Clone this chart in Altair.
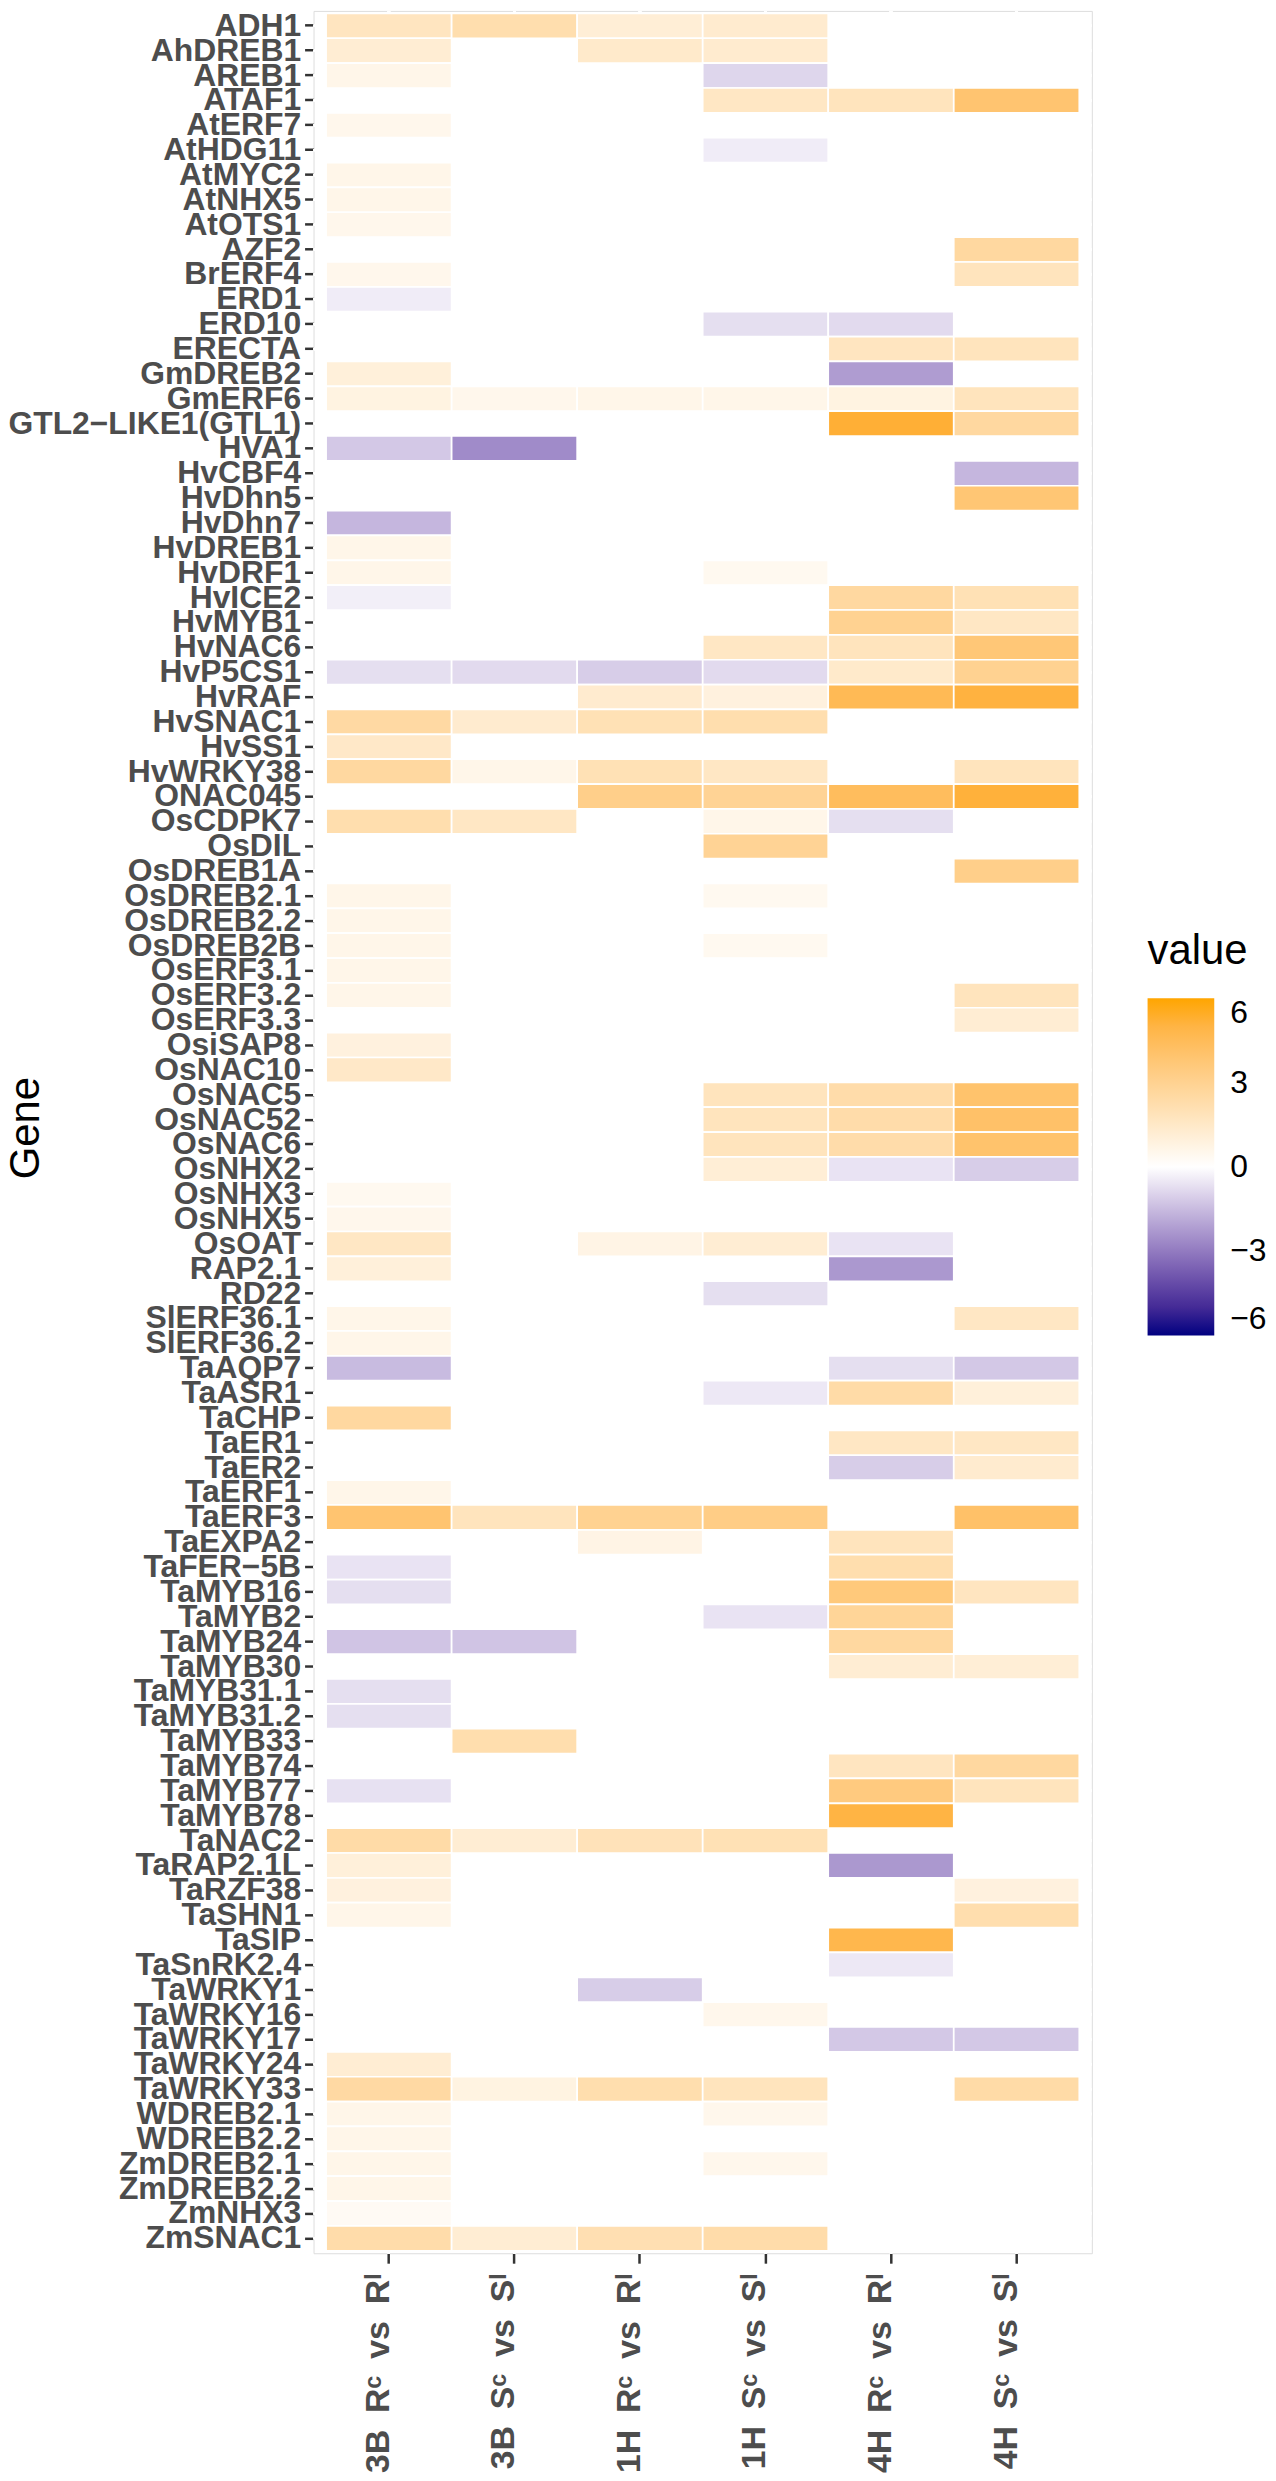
import altair as alt
import pandas as pd

N = None
SP = "\u2002"

genes = [
    "ADH1", "AhDREB1", "AREB1", "ATAF1", "AtERF7", "AtHDG11", "AtMYC2", "AtNHX5", "AtOTS1", "AZF2",
    "BrERF4", "ERD1", "ERD10", "ERECTA", "GmDREB2", "GmERF6", "GTL2\u2212LIKE1(GTL1)", "HVA1", "HvCBF4", "HvDhn5",
    "HvDhn7", "HvDREB1", "HvDRF1", "HvICE2", "HvMYB1", "HvNAC6", "HvP5CS1", "HvRAF", "HvSNAC1", "HvSS1",
    "HvWRKY38", "ONAC045", "OsCDPK7", "OsDIL", "OsDREB1A", "OsDREB2.1", "OsDREB2.2", "OsDREB2B", "OsERF3.1", "OsERF3.2",
    "OsERF3.3", "OsiSAP8", "OsNAC10", "OsNAC5", "OsNAC52", "OsNAC6", "OsNHX2", "OsNHX3", "OsNHX5", "OsOAT",
    "RAP2.1", "RD22", "SlERF36.1", "SlERF36.2", "TaAQP7", "TaASR1", "TaCHP", "TaER1", "TaER2", "TaERF1",
    "TaERF3", "TaEXPA2", "TaFER\u22125B", "TaMYB16", "TaMYB2", "TaMYB24", "TaMYB30", "TaMYB31.1", "TaMYB31.2", "TaMYB33",
    "TaMYB74", "TaMYB77", "TaMYB78", "TaNAC2", "TaRAP2.1L", "TaRZF38", "TaSHN1", "TaSIP", "TaSnRK2.4", "TaWRKY1\u00a0",
    "TaWRKY16", "TaWRKY17", "TaWRKY24", "TaWRKY33", "WDREB2.1", "WDREB2.2", "ZmDREB2.1", "ZmDREB2.2", "ZmNHX3", "ZmSNAC1",
]

comparisons = [
    f"3B{SP}R\u1d9c{SP}vs{SP}R\u1d35",
    f"3B{SP}S\u1d9c{SP}vs{SP}S\u1d35",
    f"1H{SP}R\u1d9c{SP}vs{SP}R\u1d35",
    f"1H{SP}S\u1d9c{SP}vs{SP}S\u1d35",
    f"4H{SP}R\u1d9c{SP}vs{SP}R\u1d35",
    f"4H{SP}S\u1d9c{SP}vs{SP}S\u1d35",
]

# log2 fold change per comparison, in gene order (None = not reported)
v_3B_R = [1.7, 1.2, 0.6, N, 0.5, N, 0.6, 0.6, 0.5, N,
          0.5, -0.4, N, N, 1.0, 0.8, N, -1.2, N, N,
          -1.6, 0.6, 0.6, -0.35, N, N, -0.7, N, 2.5, 1.5,
          2.6, N, 2.2, N, N, 0.6, 0.6, 0.6, 0.6, 0.6,
          N, 0.9, 1.5, N, N, N, N, 0.4, 0.5, 1.6,
          1.0, N, 0.6, 0.6, -1.5, N, 2.6, N, N, 0.6,
          3.9, N, -0.6, -0.7, N, -1.3, N, -0.7, -0.7, N,
          N, -0.65, N, 2.4, 1.0, 0.9, 0.6, N, N, N,
          N, N, 1.2, 2.5, 0.6, 0.6, 0.6, 0.6, 0.3, 2.3]
v_3B_S = [2.2, N, N, N, N, N, N, N, N, N,
          N, N, N, N, N, 0.5, N, -2.6, N, N,
          N, N, N, N, N, N, -0.8, N, 1.3, N,
          0.6, N, 1.6, N, N, N, N, N, N, N,
          N, N, N, N, N, N, N, N, N, N,
          N, N, N, N, N, N, N, N, N, N,
          1.8, N, N, N, N, -1.3, N, N, N, 2.2,
          N, N, N, 1.2, N, N, N, N, N, N,
          N, N, N, 0.8, N, N, N, N, N, 1.2]
v_1H_R = [1.1, 1.4, N, N, N, N, N, N, N, N,
          N, N, N, N, N, 0.6, N, N, N, N,
          N, N, N, N, N, N, -1.1, 1.3, 2.0, N,
          2.0, 3.2, N, N, N, N, N, N, N, N,
          N, N, N, N, N, N, N, N, N, 0.7,
          N, N, N, N, N, N, N, N, N, N,
          3.0, 0.7, N, N, N, N, N, N, N, N,
          N, N, N, 1.9, N, N, N, N, N, -1.1,
          N, N, N, 2.2, N, N, N, N, N, 2.1]
v_1H_S = [1.3, 1.3, -0.9, 1.6, N, -0.4, N, N, N, N,
          N, N, -0.7, N, N, 0.6, N, N, N, N,
          N, N, 0.4, N, N, 1.6, -0.8, 0.9, 2.2, N,
          1.6, 2.9, 0.6, 2.9, N, 0.4, N, 0.4, N, N,
          N, N, N, 1.8, 1.8, 1.8, 1.1, N, N, 1.2,
          N, -0.7, N, N, N, -0.5, N, N, N, N,
          3.3, N, N, N, -0.6, N, N, N, N, N,
          N, N, N, 2.0, N, N, N, N, N, N,
          0.5, N, N, 1.8, 0.5, N, 0.5, N, N, 2.3]
v_4H_R = [N, N, N, 1.8, N, N, N, N, N, N,
          N, N, -0.8, 1.7, -2.2, 0.8, 5.3, N, N, N,
          N, N, N, 2.6, 3.0, 1.8, 1.4, 4.6, N, N,
          N, 4.4, -0.7, N, N, N, N, N, N, N,
          N, N, N, 2.3, 2.3, 2.3, -0.6, N, N, -0.6,
          -2.3, N, N, N, -0.7, 2.4, N, 1.6, -1.1, N,
          N, 1.8, 2.2, 3.6, 2.8, 2.6, 1.2, N, N, N,
          1.7, 3.5, 5.0, N, -2.3, N, N, 4.8, -0.5, N,
          N, -1.2, N, N, N, N, N, N, N, N]
v_4H_S = [N, N, N, 3.9, N, N, N, N, N, 2.6,
          1.8, N, N, 1.8, N, 1.8, 2.6, N, -1.6, 3.8,
          N, N, N, 2.0, 1.6, 3.7, 3.0, 5.1, N, N,
          1.8, 5.2, N, N, 3.2, N, N, N, N, 1.8,
          1.2, N, N, 4.0, 4.1, 4.0, -1.1, N, N, N,
          N, N, 1.6, N, -1.2, 1.0, N, 1.6, 1.3, N,
          4.1, N, N, 1.7, N, N, 1.1, N, N, N,
          2.6, 1.8, N, N, N, 0.9, 2.2, N, N, N,
          N, -1.2, N, 2.4, N, N, N, N, N, N]

columns = [v_3B_R, v_3B_S, v_1H_R, v_1H_S, v_4H_R, v_4H_S]

rows = []
for comp, vals in zip(comparisons, columns):
    for g, v in zip(genes, vals):
        rows.append({"Gene": g, "Comparison": comp, "value": v})
df = pd.DataFrame(rows)

FONT = "Liberation Sans, Arial, DejaVu Sans"

x = alt.X(
    "Comparison:N", sort=comparisons,
    scale=alt.Scale(paddingInner=0, paddingOuter=0.1),
    axis=alt.Axis(
        title=None, labelAngle=270, labelAlign="right", labelBaseline="alphabetic",
        labelFont=FONT, labelFontSize=34, labelFontWeight="bold",
        labelColor="#4D4D4D", tickColor="#333333", tickSize=10, tickWidth=2.5, labelPadding=10,
        domain=False, grid=False, labelLimit=0,
    ),
)
y = alt.Y(
    "Gene:N", sort=genes,
    scale=alt.Scale(paddingInner=0, paddingOuter=0.1),
    axis=alt.Axis(
        title="Gene", titleFont=FONT, titleFontSize=42, titleFontWeight="normal", titleColor="black",
        titleAngle=270, titleX=-289, titleY=1122, titleAlign="center", titleBaseline="middle",
        labelFont=FONT, labelFontSize=32, labelFontWeight="bold", labelColor="#4D4D4D",
        tickColor="#333333", tickSize=9, tickWidth=2.5, labelPadding=4, labelOverlap=False,
        domain=False, grid=False, labelLimit=0,
    ),
)

base = alt.Chart(df)
grid_h = base.mark_rule(color="white", strokeWidth=2.5).encode(y=y)
grid_v = base.mark_rule(color="white", strokeWidth=2.5).encode(x=x)
blank = base.mark_rect(fill="white", stroke="white", strokeWidth=1.7).encode(x=x, y=y)
tiles = base.transform_filter("isValid(datum.value)").mark_rect(
    stroke="white", strokeWidth=1.7
).encode(
    x=x, y=y,
    color=alt.Color(
        "value:Q",
        scale=alt.Scale(domain=[-6, 0, 6], range=["#000080", "#FFFFFF", "#FFA500"], interpolate="lab"),
        legend=alt.Legend(
            title="value", orient="none", legendX=838, legendY=925, direction="vertical",
            titleFont=FONT, titleFontSize=42, titleFontWeight="normal", titleColor="black", titlePadding=25,
            gradientLength=339, gradientThickness=67, gradientStrokeWidth=0,
            values=[-6, -3, 0, 3, 6], labelFont=FONT, labelFontSize=32, labelColor="black",
            labelOffset=16, labelBaseline="middle",
        ),
    ),
)

chart = alt.layer(grid_h, grid_v, blank, tiles).properties(
    width=782, height=2253,
    padding={"left": 307, "top": -3, "right": 177, "bottom": 240},
    autosize="none",
).configure_view(fill="#EBEBEB", strokeWidth=0).configure(background="white")

chart.save("out.html", embed_options={"renderer": "svg", "actions": False})
